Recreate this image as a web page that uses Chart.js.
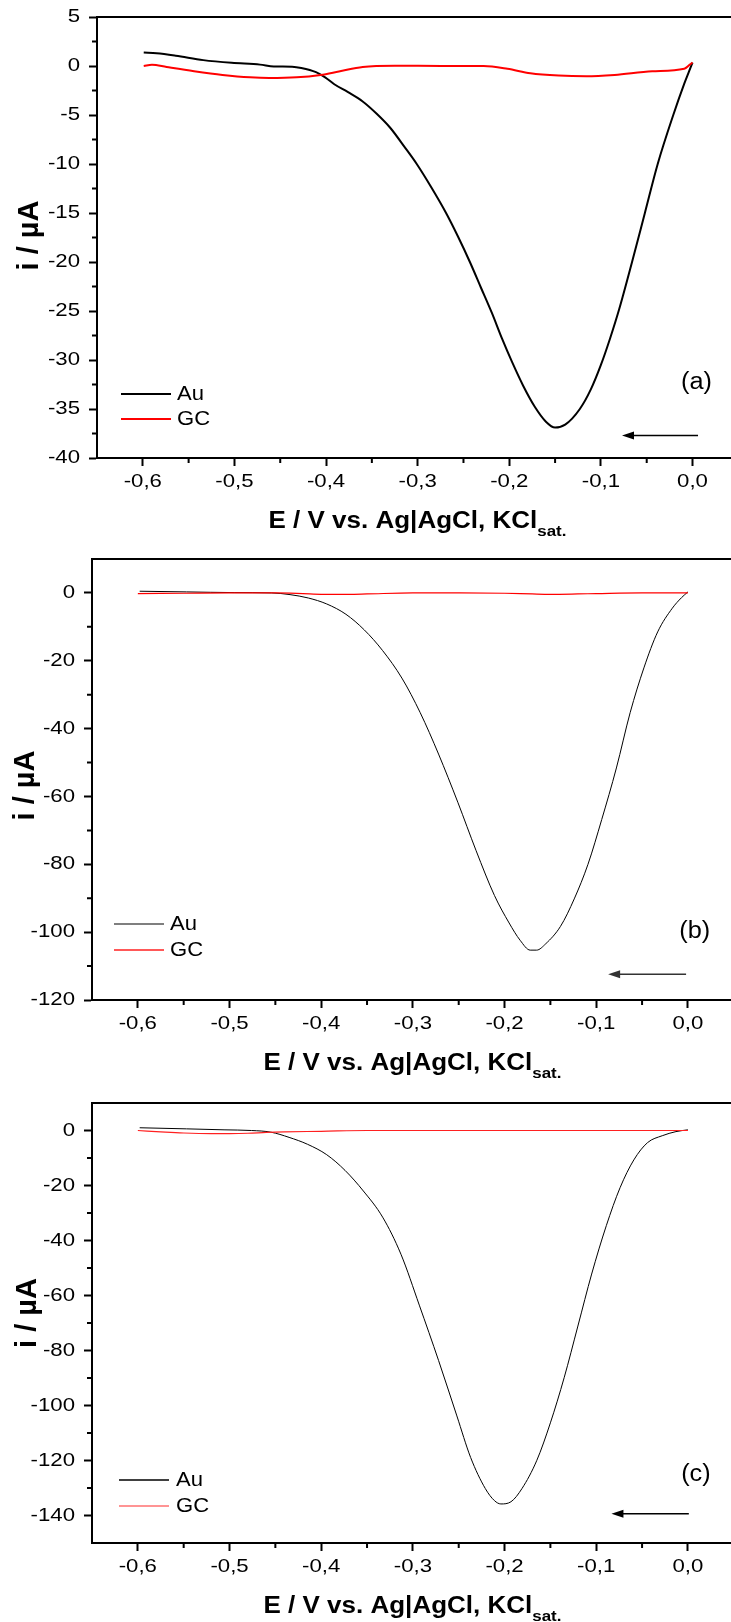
<!DOCTYPE html>
<html>
<head>
<meta charset="utf-8">
<script src="https://cdn.jsdelivr.net/npm/chart.js@4.4.0/dist/chart.umd.min.js"></script>
<style>
  html, body { margin: 0; padding: 0; background: #fff; }
  body { width: 731px; overflow: hidden; }
  .panel { position: relative; width: 731px; }
</style>
</head>
<body>
<div class="panel" style="height:540px"><canvas id="chartA"></canvas></div>
<div class="panel" style="height:540px"><canvas id="chartB"></canvas></div>
<div class="panel" style="height:542px"><canvas id="chartC"></canvas></div>
<script>
// potential E (V vs. Ag|AgCl) and current i (µA)
const xTicks = [-0.6, -0.5, -0.4, -0.3, -0.2, -0.1, 0.0];
const xMinor = [-0.55, -0.45, -0.35, -0.25, -0.15, -0.05];

// (a)
const yTicksA = [5, 0, -5, -10, -15, -20, -25, -30, -35, -40];
const yMinorA = [2.5, -2.5, -7.5, -12.5, -17.5, -22.5, -27.5, -32.5, -37.5];
const auA_E = [-0.599, -0.585, -0.564, -0.534, -0.503, -0.472, -0.457, -0.437, -0.427, -0.411, -0.401, -0.391, -0.376, -0.360, -0.345, -0.330, -0.314, -0.301, -0.285, -0.269, -0.256, -0.243, -0.231, -0.219, -0.208, -0.197, -0.185, -0.172, -0.160, -0.150, -0.139, -0.123, -0.111, -0.100, -0.090, -0.080, -0.066, -0.052, -0.038, -0.021, -0.009, -0.004, 0.000];
const auA_I = [1.37, 1.30, 1.05, 0.60, 0.32, 0.14, -0.04, -0.07, -0.20, -0.63, -1.16, -1.86, -2.67, -3.62, -4.85, -6.3, -8.3, -10.0, -12.4, -15.0, -17.4, -20.0, -22.6, -25.2, -27.8, -30.2, -32.6, -34.8, -36.3, -36.9, -36.6, -35.0, -33.0, -30.5, -27.8, -24.8, -20.0, -15.0, -10.0, -5.0, -1.8, -0.6, 0.35];
const gcA_E = [-0.599, -0.590, -0.574, -0.544, -0.513, -0.483, -0.462, -0.432, -0.406, -0.386, -0.360, -0.325, -0.274, -0.228, -0.202, -0.177, -0.146, -0.116, -0.085, -0.044, -0.009, -0.003, 0.000];
const gcA_I = [0.0, 0.14, -0.10, -0.53, -0.91, -1.16, -1.23, -1.16, -0.91, -0.56, -0.10, 0.03, 0.0, 0.0, -0.28, -0.74, -0.98, -1.05, -0.91, -0.53, -0.28, 0.14, 0.35];

// (b)
const yTicksB = [0, -20, -40, -60, -80, -100, -120];
const yMinorB = [-10, -30, -50, -70, -90, -110];
const auB_E = [-0.598, -0.547, -0.495, -0.454, -0.434, -0.414, -0.394, -0.373, -0.353, -0.333, -0.312, -0.292, -0.272, -0.251, -0.231, -0.211, -0.195, -0.183, -0.172, -0.165, -0.155, -0.139, -0.124, -0.109, -0.094, -0.078, -0.063, -0.048, -0.033, -0.017, -0.007, 0.000];
const auB_I = [0.5, 0.3, 0.1, 0.0, -0.5, -1.5, -3.25, -6.3, -10.9, -17.0, -25.1, -35.3, -47.5, -61.7, -76.0, -89.2, -97.3, -102.4, -105.3, -105.3, -103.4, -98.3, -90.2, -80.0, -66.8, -51.6, -35.3, -22.1, -11.5, -4.5, -1.4, 0.3];
const gcB_E = [-0.6, -0.55, -0.5, -0.45, -0.42, -0.4, -0.37, -0.35, -0.3, -0.25, -0.2, -0.17, -0.15, -0.12, -0.1, -0.05, 0];
const gcB_I = [-0.2, -0.1, 0, 0, -0.2, -0.4, -0.4, -0.3, 0, 0, -0.1, -0.3, -0.4, -0.3, -0.2, 0, 0];

// (c)
const yTicksC = [0, -20, -40, -60, -80, -100, -120, -140];
const yMinorC = [-10, -30, -50, -70, -90, -110, -130];
const auC_E = [-0.598, -0.547, -0.506, -0.476, -0.455, -0.435, -0.415, -0.394, -0.374, -0.354, -0.333, -0.313, -0.293, -0.272, -0.252, -0.237, -0.221, -0.211, -0.204, -0.193, -0.181, -0.165, -0.150, -0.135, -0.120, -0.105, -0.089, -0.074, -0.059, -0.044, -0.028, -0.013, 0.000];
const auC_I = [1.0, 0.6, 0.25, 0.0, -0.6, -2.5, -5.0, -8.8, -14.5, -22.0, -31.5, -45.0, -63.5, -83.6, -103.8, -118.9, -130.2, -134.6, -135.8, -135.0, -130.2, -120.1, -106.3, -89.9, -71.1, -52.2, -34.6, -20.8, -10.7, -4.4, -1.9, -0.4, 0.25];
const gcC_E = [-0.6, -0.57, -0.55, -0.52, -0.5, -0.48, -0.46, -0.44, -0.4, -0.35, -0.3, -0.2, -0.1, 0];
const gcC_I = [0, -0.6, -0.9, -1.1, -1.1, -1.0, -0.7, -0.5, -0.3, 0, 0, 0, 0, 0];

const FONT = "'Liberation Sans', Arial, sans-serif";
const zip = (xs, ys) => xs.map((v, i) => ({ x: v, y: ys[i] }));
const fmtX = v => v.toFixed(1).replace('.', ',');
const fmtY = v => String(v);

// text widened horizontally, the way the plot software renders it
function stretchedText(ctx, text, x, y, font, sx, align) {
  ctx.save();
  ctx.font = font;
  ctx.translate(x, y);
  ctx.scale(sx, 1);
  ctx.textAlign = align;
  ctx.textBaseline = 'middle';
  ctx.fillText(text, 0, 0);
  ctx.restore();
}

// frame, minor ticks, tick labels, legend, arrow, panel tag and axis titles
function makeDecor(p) {
  return {
    id: 'decor',
    afterDraw(chart) {
      const { ctx, chartArea: a } = chart;
      const xs = chart.scales.x, ys = chart.scales.y;
      ctx.save();
      ctx.strokeStyle = '#000';
      ctx.fillStyle = '#000';

      ctx.lineWidth = 2;
      ctx.beginPath();
      ctx.moveTo(a.left - 1, a.top);
      ctx.lineTo(chart.width, a.top);
      ctx.stroke();

      ctx.beginPath();
      p.minorX.forEach(v => {
        const px = xs.getPixelForValue(v);
        ctx.moveTo(px, a.bottom); ctx.lineTo(px, a.bottom + 5);
      });
      p.minorY.forEach(v => {
        const py = ys.getPixelForValue(v);
        ctx.moveTo(a.left, py); ctx.lineTo(a.left - 5, py);
      });
      ctx.stroke();

      const tickFont = '18.5px ' + FONT;
      xs.ticks.forEach(t => {
        stretchedText(ctx, fmtX(t.value), xs.getPixelForValue(t.value), a.bottom + 24, tickFont, 1.2, 'center');
      });
      ys.ticks.forEach(t => {
        stretchedText(ctx, fmtY(t.value), a.left - 17, ys.getPixelForValue(t.value), tickFont, 1.2, 'right');
      });

      // legend
      chart.data.datasets.forEach((ds, i) => {
        const ly = a.bottom - p.legend.rows[i];
        ctx.strokeStyle = p.legend.colors[i];
        ctx.lineWidth = p.legend.width;
        ctx.beginPath();
        ctx.moveTo(a.left + p.legend.x0, ly);
        ctx.lineTo(a.left + p.legend.x1, ly);
        ctx.stroke();
        ctx.fillStyle = '#000';
        stretchedText(ctx, ds.label, a.left + p.legend.tx, ly, '21px ' + FONT, 1.05, 'left');
      });

      // sweep direction arrow
      const ax0 = xs.getPixelForValue(p.arrow.from);
      const ax1 = xs.getPixelForValue(p.arrow.to);
      const ay = ys.getPixelForValue(p.arrow.i);
      ctx.strokeStyle = p.arrow.color;
      ctx.fillStyle = p.arrow.color;
      ctx.lineWidth = 1.5;
      ctx.beginPath();
      ctx.moveTo(ax0, ay); ctx.lineTo(ax1 + 8, ay);
      ctx.stroke();
      ctx.beginPath();
      ctx.moveTo(ax1, ay); ctx.lineTo(ax1 + 12, ay - 4); ctx.lineTo(ax1 + 12, ay + 4);
      ctx.closePath();
      ctx.fill();

      ctx.fillStyle = '#000';
      stretchedText(ctx, p.tag.text, xs.getPixelForValue(p.tag.x), ys.getPixelForValue(p.tag.i),
        '23px ' + FONT, 1.1, 'center');

      // x title with subscript
      const main = 'E / V vs. Ag|AgCl, KCl', sub = 'sat.';
      const sx = 1.13;
      ctx.font = 'bold 23px ' + FONT;
      const w1 = ctx.measureText(main).width * sx;
      ctx.font = 'bold 15px ' + FONT;
      const w2 = ctx.measureText(sub).width * sx;
      const tx = (a.left + a.right) / 2 + p.titleDx - (w1 + w2) / 2;
      const base = a.bottom + 70;
      ctx.textBaseline = 'alphabetic';
      ctx.textAlign = 'left';
      ctx.save();
      ctx.translate(tx, base); ctx.scale(sx, 1);
      ctx.font = 'bold 23px ' + FONT;
      ctx.fillText(main, 0, 0);
      ctx.restore();
      ctx.save();
      ctx.translate(tx + w1, base + 8); ctx.scale(sx, 1);
      ctx.font = 'bold 15px ' + FONT;
      ctx.fillText(sub, 0, 0);
      ctx.restore();

      // y title
      ctx.save();
      ctx.translate(p.yTitle.x, (a.top + a.bottom) / 2 + p.yTitle.dy);
      ctx.rotate(-Math.PI / 2);
      ctx.font = 'bold 29px ' + FONT;
      ctx.textAlign = 'center';
      ctx.textBaseline = 'middle';
      ctx.fillText('i / µA', 0, 0);
      ctx.restore();

      ctx.restore();
    }
  };
}

function buildChart(id, p) {
  const grid = { drawOnChartArea: false, drawTicks: true, tickLength: 8, tickWidth: 2, tickColor: '#000' };
  const border = { display: true, color: '#000', width: 2 };
  return new Chart(document.getElementById(id), {
    type: 'line',
    data: {
      datasets: [
        { label: 'Au', data: zip(p.auE, p.auI), borderColor: p.auColor, borderWidth: p.lw,
          pointRadius: 0, cubicInterpolationMode: 'monotone', order: 1 },
        { label: 'GC', data: zip(p.gcE, p.gcI), borderColor: p.gcColor, borderWidth: p.gcLw,
          pointRadius: 0, cubicInterpolationMode: 'monotone', order: 0 }
      ]
    },
    options: {
      responsive: true,
      maintainAspectRatio: false,
      animation: false,
      events: [],
      layout: { padding: { top: p.top, left: 0, right: 0, bottom: 0 } },
      plugins: { legend: { display: false }, tooltip: { enabled: false } },
      scales: {
        x: {
          type: 'linear', min: -0.65, max: p.xMax,
          afterBuildTicks: s => { s.ticks = xTicks.map(v => ({ value: v })); },
          afterFit: s => { s.height = p.xH; },
          grid, border,
          ticks: { display: false }
        },
        y: {
          type: 'linear', min: p.yMin, max: p.yMax,
          afterBuildTicks: s => { s.ticks = p.yTicks.map(v => ({ value: v })); },
          afterFit: s => { s.width = p.yW; },
          grid, border,
          ticks: { display: false }
        }
      }
    },
    plugins: [makeDecor(p)]
  });
}

buildChart('chartA', {
  auE: auA_E, auI: auA_I, gcE: gcA_E, gcI: gcA_I,
  auColor: '#000', gcColor: '#ff0000', lw: 2, gcLw: 2,
  yTicks: yTicksA, minorX: xMinor, minorY: yMinorA,
  yMin: -40, yMax: 5, xMax: 0.042, top: 17, yW: 97, xH: 82,
  legend: { x0: 24, x1: 74, tx: 80, rows: [64, 39], width: 2, colors: ['#000', '#ff0000'] },
  arrow: { from: 0.006, to: -0.077, i: -37.7, color: '#000' },
  tag: { text: '(a)', x: 0.0044, i: -32.3 },
  titleDx: 3.5, yTitle: { x: 30, dy: -2 }
});

buildChart('chartB', {
  auE: auB_E, auI: auB_I, gcE: gcB_E, gcI: gcB_I,
  auColor: '#000', gcColor: '#ff0000', lw: 1, gcLw: 1.2,
  yTicks: yTicksB, minorX: xMinor, minorY: yMinorB,
  yMin: -120, yMax: 10, xMax: 0.047, top: 19, yW: 92, xH: 80,
  legend: { x0: 22, x1: 72, tx: 78, rows: [76, 50], width: 1.5, colors: ['#555', '#ff2020'] },
  arrow: { from: -0.002, to: -0.087, i: -112.4, color: '#333' },
  tag: { text: '(b)', x: 0.0074, i: -99.8 },
  titleDx: 1, yTitle: { x: 26, dy: 6 }
});

buildChart('chartC', {
  auE: auC_E, auI: auC_I, gcE: gcC_E, gcI: gcC_I,
  auColor: '#000', gcColor: '#ff2020', lw: 1, gcLw: 1.2,
  yTicks: yTicksC, minorX: xMinor, minorY: yMinorC,
  yMin: -150, yMax: 10, xMax: 0.047, top: 23, yW: 92, xH: 79,
  legend: { x0: 27, x1: 77, tx: 84, rows: [63, 37], width: 1.5, colors: ['#000', '#ff7070'] },
  arrow: { from: 0.001, to: -0.0834, i: -139.4, color: '#000' },
  tag: { text: '(c)', x: 0.0087, i: -125 },
  titleDx: 1, yTitle: { x: 28, dy: -10 }
});
</script>
</body>
</html>
